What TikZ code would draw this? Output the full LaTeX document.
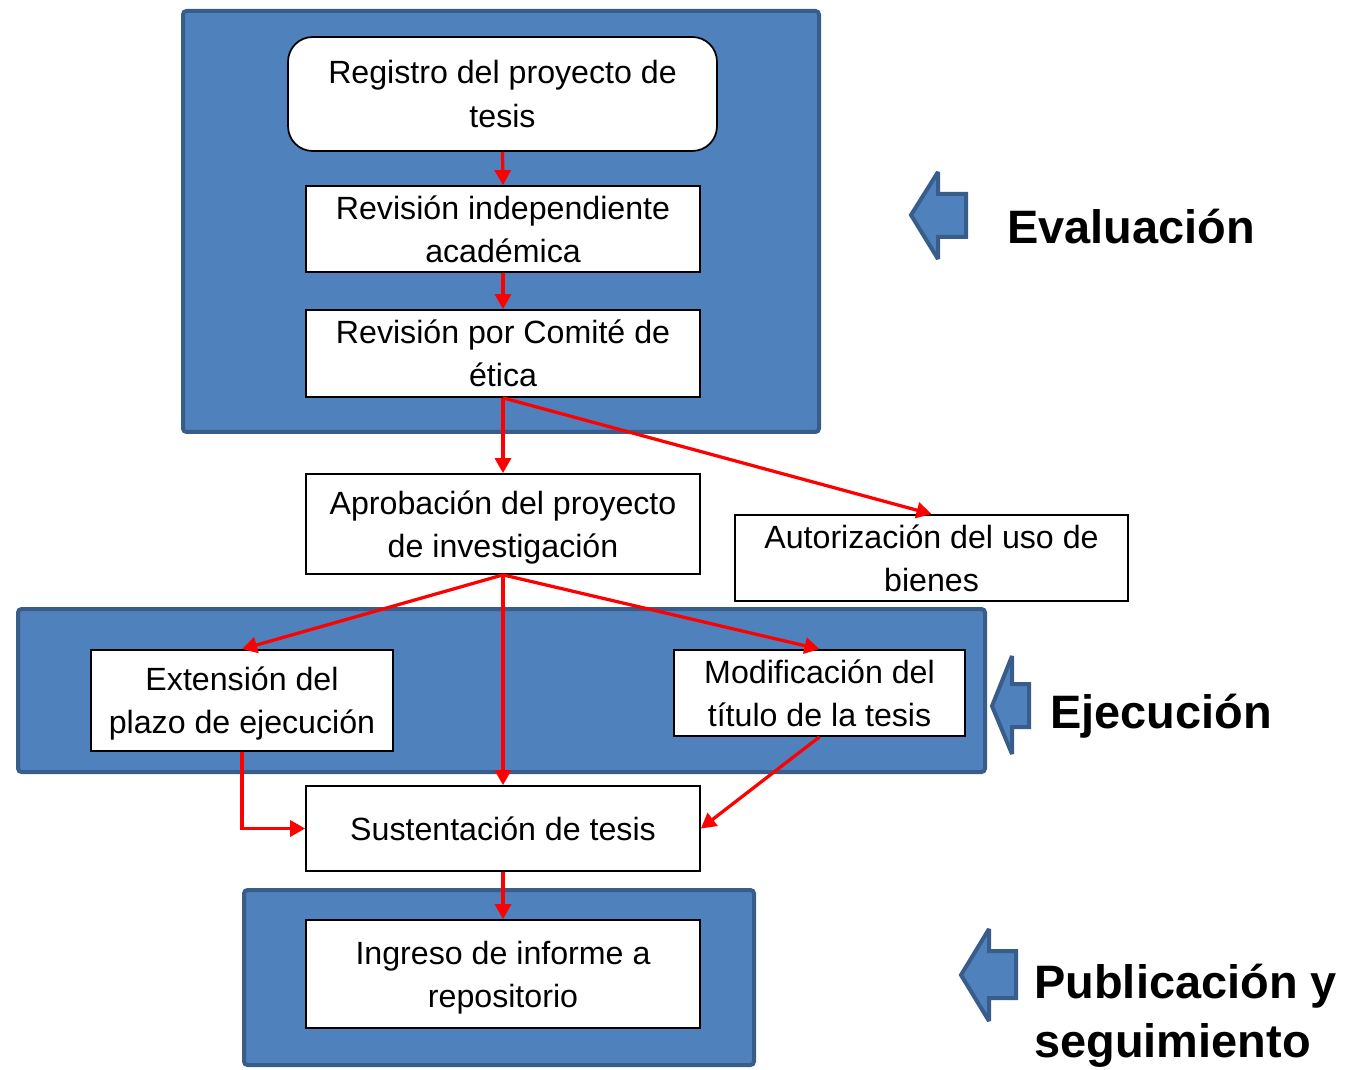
\documentclass[tikz,border=0pt]{standalone}
\usepackage{fontspec}
\setmainfont{Liberation Sans}
\usetikzlibrary{arrows.meta}

\definecolor{bfill}{HTML}{4F81BD}
\definecolor{bline}{HTML}{385D8A}
\newcommand\boxfont{\fontsize{18.3}{24.5}\selectfont}
\newcommand\stagefont{\fontsize{26.7}{33.5}\selectfont\bfseries}

\tikzset{
  region/.style={fill=bfill, draw=bline, line width=0.08cm, rounded corners=2pt},
  stagearrow/.style={fill=bfill, draw=bline, line width=0.08cm, miter limit=2},
  stepbox/.style={draw, fill=white, line width=1pt, inner sep=0pt, align=center, font=\boxfont},
  flow/.style={draw=red, line width=0.065cm, -{Triangle[length=0.3cm,width=0.32cm]}},
  stage/.style={anchor=west, align=left, font=\stagefont, inner sep=0pt}
}

\begin{document}
\begin{tikzpicture}[x=0.02cm, y=-0.02cm]
\useasboundingbox (0,0) rectangle (1354,1070);

% blue stage areas
\draw[region] (183,11) rectangle (819,432);
\draw[region] (18,609) rectangle (985,772);
\draw[region] (244,890) rectangle (754,1065);

% stage arrows
\draw[stagearrow] (911,215) -- (938,172) -- (938,194) -- (966,194) -- (966,237) -- (938,237) -- (938,259) -- cycle;
\draw[stagearrow] (992,706) -- (1012,656) -- (1012,684) -- (1029,684) -- (1029,727) -- (1012,727) -- (1012,754) -- cycle;
\draw[stagearrow] (961,975) -- (989,929) -- (989,951) -- (1016,951) -- (1016,998) -- (989,998) -- (989,1021) -- cycle;

% steps
\node[stepbox, rounded corners=14pt, minimum width=8.58cm, minimum height=2.28cm] (reg) at (502.5,94) {Registro del proyecto de\\tesis};
\node[stepbox, minimum width=7.88cm, minimum height=1.72cm] (rev) at (503,229) {Revisión independiente\\académica};
\node[stepbox, minimum width=7.88cm, minimum height=1.74cm] (eti) at (503,353.5) {Revisión por Comité de\\ética};
\node[stepbox, minimum width=7.88cm, minimum height=2cm] (apr) at (503,524) {\strut Aprobación del proyecto\\de investigación};
\node[stepbox, minimum width=7.86cm, minimum height=1.72cm] (aut) at (931.5,558) {Autorización del uso de\\bienes};
\node[stepbox, minimum width=6.04cm, minimum height=2.02cm] (ext) at (242,700.5) {\strut Extensión del\\plazo de ejecución};
\node[stepbox, minimum width=5.82cm, minimum height=1.72cm] (mod) at (819.5,693) {Modificación del\\título de la tesis};
\node[stepbox, minimum width=7.88cm, minimum height=1.7cm] (sus) at (503,828.5) {Sustentación de tesis};
\node[stepbox, minimum width=7.88cm, minimum height=2.16cm] (ing) at (503,974) {\strut Ingreso de informe a\\repositorio};

% stage labels
\node[stage] (lev) at (1007,227) {Evaluación};
\node[stage] (lej) at (1050,716) {Ejecución};
\node[stage] (lpu) at (1034,1016) {Publicación y\\seguimiento};

% flow
\draw[flow] (reg.south) -- (rev.north);
\draw[flow] (rev.south) -- (eti.north);
\draw[flow] (eti.south) -- (apr.north);
\draw[flow] (eti.south) -- (aut.north);
\draw[flow] (apr.south) -- (ext.north);
\draw[flow] (apr.south) -- (sus.north);
\draw[flow] (apr.south) -- (mod.north);
\draw[flow] (ext.south) |- (sus.west);
\draw[flow] (mod.south) -- (sus.east);
\draw[flow] (sus.south) -- (ing.north);
\end{tikzpicture}
\end{document}
